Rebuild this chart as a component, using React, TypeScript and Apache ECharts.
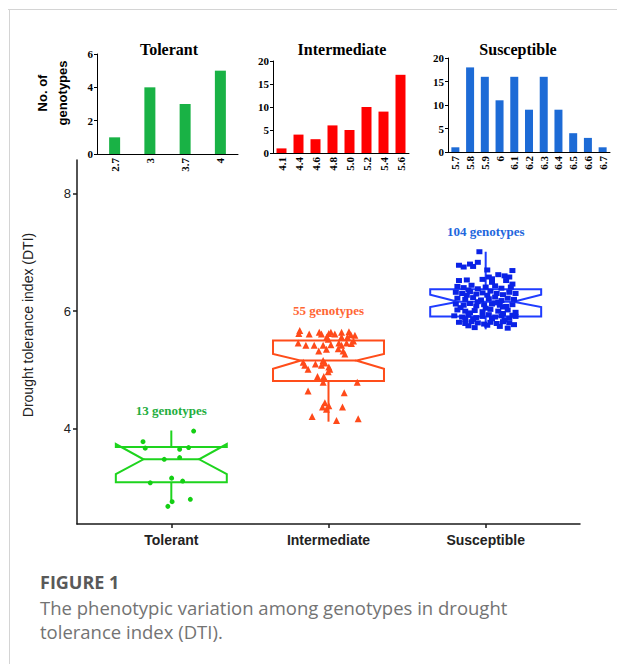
import React, { useEffect, useRef } from "react";
import * as echarts from "echarts";

// ---------- histogram data ----------
const histTitles = ["Tolerant", "Intermediate", "Susceptible"];
const tolBins = ["2.7", "3", "3.7", "4"];
const tolCounts = [1, 4, 3, 5];
const intBins = ["4.1", "4.4", "4.6", "4.8", "5.0", "5.2", "5.4", "5.6"];
const intCounts = [1, 4, 3, 6, 5, 10, 9, 17];
const susBins = ["5.7", "5.8", "5.9", "6", "6.1", "6.2", "6.3", "6.4", "6.5", "6.6", "6.7"];
const susCounts = [1, 18, 16, 11, 16, 9, 16, 9, 4, 3, 1];
const histMax = [6, 20, 20];
const histInterval = [2, 5, 5];

// ---------- main (box plot) data ----------
const groups = ["Tolerant", "Intermediate", "Susceptible"];
const groupLabels = ["13 genotypes", "55 genotypes", "104 genotypes"];
const dtiTicks = [4, 6, 8];
// [whiskerLow, Q1, notchLow, median, notchHigh, Q3, whiskerHigh]
const tolBox = [2.74, 3.09, 3.23, 3.48, 3.74, 3.69, 3.97];
const intBox = [4.12, 4.81, 5.02, 5.16, 5.27, 5.5, 5.5];
const susBox = [5.69, 5.91, 6.07, 6.16, 6.28, 6.37, 7.01];

// points: [jitter, DTI]
const tolPoints = [
  [0.142, 3.96], [-0.18, 3.78], [-0.166, 3.67], [0.053, 3.65], [0.11, 3.68],
  [-0.045, 3.48], [0.053, 3.51], [-0.134, 3.08], [0.002, 3.16], [0.072, 3.11],
  [0.005, 2.76], [-0.022, 2.68], [0.121, 2.8],
];
const intPoints = [
  [-0.183, 5.67], [-0.189, 5.62], [-0.123, 5.61], [-0.059, 5.64], [-0.045, 5.61],
  [-0.011, 5.56], [0.002, 5.62], [0.015, 5.64], [0.04, 5.61], [0.083, 5.64],
  [0.13, 5.65], [0.142, 5.6], [0.168, 5.59], [0.083, 5.56], [0.121, 5.56],
  [-0.002, 5.52], [-0.193, 5.46], [-0.144, 5.42], [-0.091, 5.42], [-0.034, 5.42],
  [0.015, 5.43], [0.066, 5.46], [0.083, 5.42], [0.115, 5.46], [0.146, 5.45],
  [0.159, 5.49], [-0.062, 5.32], [0.062, 5.36], [0.093, 5.32], [0.104, 5.27],
  [-0.013, 5.35], [-0.161, 5.13], [-0.151, 5.08], [-0.13, 5.01], [-0.083, 5.1],
  [-0.034, 5.16], [-0.023, 5.12], [-0.045, 5.08], [0.002, 5.05], [0.008, 5.01],
  [-0.07, 4.89], [-0.03, 4.89], [-0.002, 4.97], [-0.034, 4.79], [0.183, 4.79],
  [-0.13, 4.64], [0.1, 4.61], [-0.023, 4.44], [-0.038, 4.37], [-0.013, 4.33],
  [0.002, 4.39], [0.089, 4.37], [-0.104, 4.21], [0.051, 4.14], [0.189, 4.17],
];
const susPoints = [
  [-0.04, 7.01],
  [-0.05, 6.83], [-0.1, 6.8], [-0.17, 6.78], [-0.14, 6.75], [-0.08, 6.76],
  [0.01, 6.7], [0.17, 6.69],
  [0.08, 6.62], [0.12, 6.6], [0.15, 6.58], [0.02, 6.58],
  [-0.17, 6.52], [-0.12, 6.53], [-0.02, 6.54], [0.04, 6.55], [0.13, 6.52], [0.17, 6.46], [0.04, 6.49],
  [-0.18, 6.42], [-0.14, 6.4], [-0.09, 6.44], [-0.05, 6.38], [0.0, 6.41], [0.06, 6.43], [0.1, 6.39], [0.16, 6.41], [-0.11, 6.36],
  [-0.19, 6.32], [-0.15, 6.3], [-0.1, 6.33], [-0.06, 6.29], [-0.02, 6.31], [0.03, 6.34], [0.07, 6.3], [0.11, 6.28], [0.15, 6.32], [0.19, 6.3], [-0.12, 6.27], [0.01, 6.27],
  [-0.18, 6.22], [-0.13, 6.2], [-0.08, 6.23], [-0.03, 6.19], [0.02, 6.21], [0.06, 6.24], [0.1, 6.18], [0.14, 6.22], [0.18, 6.2], [-0.05, 6.16], [0.08, 6.15],
  [-0.19, 6.12], [-0.14, 6.1], [-0.1, 6.13], [-0.06, 6.09], [-0.01, 6.11], [0.04, 6.12], [0.09, 6.1], [0.13, 6.08], [0.17, 6.11], [-0.16, 6.06], [0.0, 6.05], [0.11, 6.07], [0.06, 6.14],
  [-0.18, 6.02], [-0.13, 6.0], [-0.07, 6.01], [-0.02, 5.99], [0.03, 6.03], [0.08, 6.0], [0.14, 6.02], [0.19, 5.98], [-0.1, 5.97], [0.11, 5.96],
  [-0.2, 5.92], [-0.15, 5.9], [-0.11, 5.93], [-0.06, 5.89], [-0.02, 5.91], [0.02, 5.94], [0.06, 5.9], [0.1, 5.92], [0.15, 5.88], [0.19, 5.91], [-0.08, 5.86], [0.04, 5.87], [0.12, 5.85], [-0.13, 5.86], [0.17, 5.93],
  [-0.17, 5.81], [-0.13, 5.79], [-0.09, 5.82], [-0.05, 5.8], [-0.01, 5.78], [0.03, 5.81], [0.07, 5.79], [0.11, 5.82], [0.15, 5.8], [0.18, 5.77], [-0.11, 5.75], [0.01, 5.76], [0.09, 5.74],
  [-0.07, 5.72], [0.14, 5.71],
];

const serif = "'Liberation Serif', 'Times New Roman', serif";
const sans = "'Liberation Sans', Arial, sans-serif";

const histBins = [tolBins, intBins, susBins];
const histCounts = [tolCounts, intCounts, susCounts];
const histColors = ["#19b245", "#ff0000", "#1d6bd6"];
const histGrids = [
  { left: 97, top: 54, width: 141, height: 100 },
  { left: 273, top: 61, width: 136, height: 92 },
  { left: 448, top: 58, width: 162, height: 94 },
];
const histBarWidth = [11, 10, 8];
const histTitleX = [169, 342, 518];

const boxColors = ["#1ed41e", "#ff4d1a", "#1f3cff"];
const pointColors = ["#14cf14", "#ff4a1a", "#0a22e6"];
const labelColors = ["#1fae3e", "#ff6633", "#2266dd"];
const boxes = [tolBox, intBox, susBox];
const pointSets = [tolPoints, intPoints, susPoints];
const symbols = ["circle", "triangle", "rect"];
const symbolSizes: any[] = [5, 7, [6, 5]];

function buildOption() {
  const grid: any[] = histGrids.map((g) => ({ ...g, outerBoundsMode: "none", containLabel: false }));
  grid.push({ left: 77, top: 160, width: 503, height: 364, outerBoundsMode: "none", containLabel: false });

  const xAxis: any[] = histBins.map((bins, i) => ({
    type: "category",
    gridIndex: i,
    data: bins,
    axisLine: { lineStyle: { color: "#000", width: 1 } },
    axisTick: { length: 3, lineStyle: { color: "#000" } },
    axisLabel: { rotate: 90, interval: 0, fontFamily: serif, fontWeight: "bold", fontSize: 11, color: "#000", margin: 4 },
  }));
  const yAxis: any[] = histBins.map((_, i) => ({
    type: "value",
    gridIndex: i,
    min: 0,
    max: histMax[i],
    interval: histInterval[i],
    axisLine: { show: true, lineStyle: { color: "#000", width: 1 } },
    axisTick: { show: true, length: 3, lineStyle: { color: "#000" } },
    splitLine: { show: false },
    axisLabel: { fontFamily: serif, fontWeight: "bold", fontSize: 11, color: "#000", margin: 4 },
  }));

  xAxis.push({
    type: "value",
    gridIndex: 3,
    min: 0.4,
    max: 3.6,
    axisLine: { show: true, onZero: false, lineStyle: { color: "#1a1a1a", width: 1.5 } },
    axisTick: { show: true, customValues: [1, 2, 3], length: 4, lineStyle: { color: "#1a1a1a", width: 1.5 } },
    axisLabel: {
      customValues: [1, 2, 3],
      formatter: (v: number) => groups[Math.round(v) - 1] ?? "",
      fontFamily: sans,
      fontWeight: "bold",
      fontSize: 14,
      color: "#222",
      margin: 9,
    },
    splitLine: { show: false },
  });
  yAxis.push({
    type: "value",
    gridIndex: 3,
    min: 2.38,
    max: 8.57,
    axisLine: { show: true, onZero: false, lineStyle: { color: "#1a1a1a", width: 1.5 } },
    axisTick: { show: true, customValues: dtiTicks, length: 4, lineStyle: { color: "#1a1a1a", width: 1.5 } },
    axisLabel: { customValues: dtiTicks, fontFamily: sans, fontSize: 13, color: "#222", margin: 6 },
    splitLine: { show: false },
  });

  const series: any[] = histCounts.map((counts, i) => ({
    type: "bar",
    xAxisIndex: i,
    yAxisIndex: i,
    data: counts,
    barWidth: histBarWidth[i],
    itemStyle: { color: histColors[i] },
  }));

  const boxData = boxes.map((b, i) => {
    const maxVal = Math.max(b[6], ...pointSets[i].map((p) => p[1]));
    return [i + 1, ...b, maxVal];
  });

  series.push({
    type: "custom",
    xAxisIndex: 3,
    yAxisIndex: 3,
    z: 2,
    data: boxData,
    renderItem: (params: any, api: any) => {
      const i = params.dataIndex;
      const x = api.value(0);
      const [wl, q1, nl, med, nh, q3, wh, mx] = [1, 2, 3, 4, 5, 6, 7, 8].map((k) => api.value(k));
      const unit = api.size([1, 0])[0];
      const hw = unit * 0.353;
      const ind = unit * 0.176;
      const cx = api.coord([x, 5])[0];
      const y = (v: number) => api.coord([x, v])[1];
      const L = cx - hw;
      const R = cx + hw;
      const color = boxColors[i];
      const st = { fill: "none", stroke: color, lineWidth: 2 };
      const children: any[] = [
        {
          type: "polygon",
          shape: {
            points: [
              [L, y(q1)], [L, y(nl)], [L + ind, y(med)], [L, y(nh)], [L, y(q3)],
              [R, y(q3)], [R, y(nh)], [R - ind, y(med)], [R, y(nl)], [R, y(q1)],
            ],
          },
          style: st,
        },
        { type: "line", shape: { x1: L + ind, y1: y(med), x2: R - ind, y2: y(med) }, style: st },
        { type: "line", shape: { x1: cx, y1: y(q1), x2: cx, y2: y(wl) }, style: st },
      ];
      if (wh > q3) {
        children.push({ type: "line", shape: { x1: cx, y1: y(q3), x2: cx, y2: y(wh) }, style: st });
      }
      children.push({
        type: "text",
        x: cx,
        y: y(mx) - 20,
        style: {
          text: groupLabels[i],
          fill: labelColors[i],
          font: `bold 13px ${serif}`,
          align: "center",
          verticalAlign: "middle",
          textAlign: "center",
          textVerticalAlign: "middle",
        },
      });
      return { type: "group", children };
    },
  });

  pointSets.forEach((pts, i) => {
    series.push({
      type: "scatter",
      xAxisIndex: 3,
      yAxisIndex: 3,
      z: 3,
      symbol: symbols[i],
      symbolSize: symbolSizes[i],
      itemStyle: { color: pointColors[i], opacity: 1 },
      data: pts.map((p) => [i + 1 + p[0], p[1]]),
    });
  });

  const graphic: any[] = [
    { type: "line", shape: { x1: 8, y1: 9.5, x2: 617, y2: 9.5 }, style: { stroke: "#d4d4d4", lineWidth: 1 } },
    { type: "line", shape: { x1: 9.5, y1: 9, x2: 9.5, y2: 664 }, style: { stroke: "#d4d4d4", lineWidth: 1 } },
    ...histTitles.map((t, i) => ({
      type: "text",
      x: histTitleX[i],
      y: 49,
      style: { text: t, font: `bold 16px ${serif}`, fill: "#000", align: "center", verticalAlign: "middle" },
    })),
    {
      type: "text",
      x: 42,
      y: 93,
      rotation: Math.PI / 2,
      style: { text: "No. of", font: `bold 13px ${sans}`, fill: "#000", align: "center", verticalAlign: "middle" },
    },
    {
      type: "text",
      x: 62,
      y: 93,
      rotation: Math.PI / 2,
      style: { text: "genotypes", font: `bold 13px ${sans}`, fill: "#000", align: "center", verticalAlign: "middle" },
    },
    {
      type: "text",
      x: 28,
      y: 325,
      rotation: Math.PI / 2,
      style: { text: "Drought tolerance index (DTI)", font: `14px ${sans}`, fill: "#222", align: "center", verticalAlign: "middle" },
    },
    {
      type: "text",
      x: 40,
      y: 582,
      style: { text: "FIGURE 1", font: `bold 18px 'Open Sans', sans-serif`, fill: "#595959", align: "left", verticalAlign: "middle" },
    },
    {
      type: "text",
      x: 40,
      y: 607,
      style: { text: "The phenotypic variation among genotypes in drought", font: `18.5px 'Open Sans', sans-serif`, fill: "#737373", align: "left", verticalAlign: "middle" },
    },
    {
      type: "text",
      x: 40,
      y: 631,
      style: { text: "tolerance index (DTI).", font: `18.5px 'Open Sans', sans-serif`, fill: "#737373", align: "left", verticalAlign: "middle" },
    },
  ];

  return { animation: false, backgroundColor: "#fff", grid, xAxis, yAxis, series, graphic };
}

export default function App() {
  const ref = useRef<HTMLDivElement>(null);
  useEffect(() => {
    document.body.style.margin = "0";
    const chart = echarts.init(ref.current!, null, { renderer: "svg" });
    chart.setOption(buildOption() as any);
    return () => chart.dispose();
  }, []);
  return <div ref={ref} style={{ width: 617, height: 664 }} />;
}
